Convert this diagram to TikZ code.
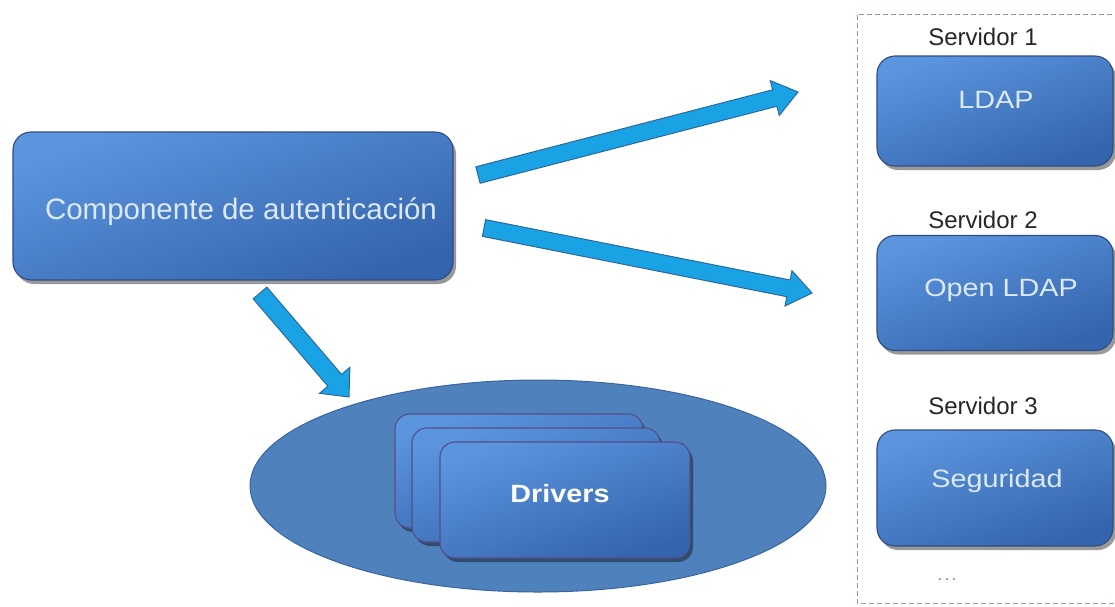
\documentclass[tikz,border=0pt]{standalone}
\usepackage{graphicx}
\usepackage{fontspec}
\setmainfont{Liberation Sans}
\usetikzlibrary{calc,shadows,shapes.geometric}

\definecolor{boxtop}{HTML}{5B95DE}
\definecolor{boxbot}{HTML}{3464AC}
\definecolor{boxedge}{HTML}{2E4C84}
\definecolor{ellfill}{HTML}{4F81BD}
\definecolor{elledge}{HTML}{3A64A0}
\definecolor{arrfill}{HTML}{1AA3E4}
\definecolor{arredge}{HTML}{2B68A0}
\definecolor{lbl}{HTML}{DCE9F8}
\definecolor{framecol}{HTML}{8C9DB8}
\definecolor{drvedge}{HTML}{574C8C}

% labels in the boxes are set slightly wide
\newcommand\widelbl[2][1.15]{\scalebox{#1}[1]{#2}}

\tikzset{
  bluebox/.style={draw=boxedge, line width=1.1pt, rounded corners=18pt,
    top color=boxtop, bottom color=boxbot, shading angle=20,
    drop shadow={shadow xshift=3pt, shadow yshift=-4pt, opacity=0.4, fill=black},
    inner sep=0pt, anchor=center},
  drvbox/.style={bluebox, draw=drvedge, rounded corners=15pt,
    minimum width=248pt, minimum height=114pt},
  srvbox/.style={bluebox, minimum width=236pt},
  boxlbl/.style={text=lbl, font=\fontsize{25}{29}\selectfont, anchor=base, inner sep=0pt},
  srvlbl/.style={text=black!85, font=\fontsize{24}{28}\selectfont, anchor=base, inner sep=0pt},
  arrowbody/.style={draw=arredge, line width=1pt, fill=arrfill, line join=miter},
  framebox/.style={draw=framecol, line width=1pt, dash pattern=on 5pt off 3pt}
}

% thick block arrow: tail, tip, shaft half width, head half width, head length
\newcommand\fatarrow[5]{%
  \coordinate (hb) at ($(#2)!#5!(#1)$);
  \draw[arrowbody] ($(#1)!#3!90:(#2)$) -- ($(hb)!#3!-90:(#1)$)
    -- ($(hb)!#4!-90:(#1)$) -- (#2) -- ($(hb)!#4!90:(#1)$)
    -- ($(hb)!#3!90:(#1)$) -- ($(#1)!#3!-90:(#2)$) -- cycle;
}

\begin{document}
\begin{tikzpicture}[x=1pt, y=-1pt]
\useasboundingbox (0,0) rectangle (1115,606);

% authentication component
\node[bluebox, minimum width=440pt, minimum height=148pt] (auth) at (233,206) {};
\node[boxlbl, font=\fontsize{29.5}{33}\selectfont] (authtxt) at (241,219) {Componente de autenticación};

% drivers pool
\node[draw=elledge, line width=1pt, fill=ellfill, ellipse, minimum width=576pt,
      minimum height=212pt, inner sep=0pt] (pool) at (538,486) {};
\node[drvbox] (drv1) at (519,471) {};
\node[drvbox] (drv2) at (536,485) {};
\node[drvbox, minimum width=250pt, minimum height=116pt] (drv3) at (565,500) {};
\node[boxlbl, text=white, font=\bfseries\fontsize{25}{29}\selectfont] (drvtxt) at (560,502) {\widelbl{Drivers}};

% server column
\draw[framebox] (1120,14) -- (857,14) -- (857,603) -- (1120,603);

\node[srvlbl] (s1) at (983,45) {Servidor 1};
\node[srvbox, minimum height=110pt] (ldap) at (995,111) {};
\node[boxlbl] (ldaptxt) at (996,108) {\widelbl{LDAP}};

\node[srvlbl] (s2) at (983,228) {Servidor 2};
\node[srvbox, minimum height=115pt] (oldap) at (995,293) {};
\node[boxlbl] (oldaptxt) at (1001,296) {\widelbl{Open LDAP}};

\node[srvlbl] (s3) at (983,414) {Servidor 3};
\node[srvbox, minimum height=116pt] (seg) at (995,488) {};
\node[boxlbl] (segtxt) at (997,487) {\widelbl{Seguridad}};

\node[srvlbl, text=black!55, font=\fontsize{16}{18}\selectfont] (more) at (947,580) {.\,.\,.};

% connectors
\coordinate (a1s) at (478,175);
\coordinate (a1e) at (798,92);
\coordinate (a2s) at (484,228);
\coordinate (a2e) at (812,293);
\coordinate (a3s) at (260,293);
\coordinate (a3e) at (349,397);
\fatarrow{a1s}{a1e}{8.5pt}{18pt}{24pt}
\fatarrow{a2s}{a2e}{8.5pt}{18pt}{24pt}
\fatarrow{a3s}{a3e}{9pt}{20pt}{22pt}
\end{tikzpicture}
\end{document}
